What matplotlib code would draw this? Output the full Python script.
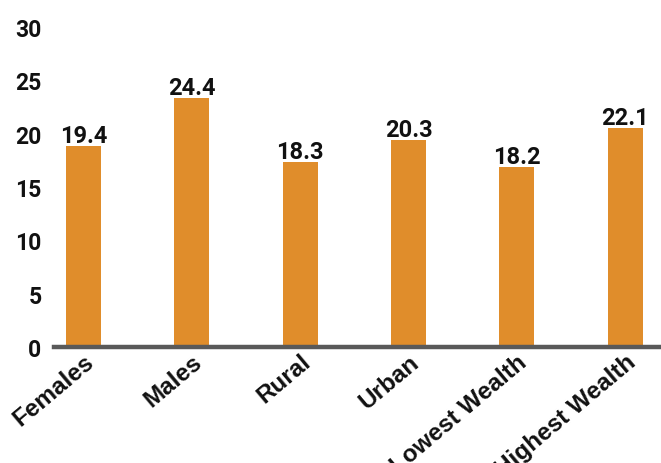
import matplotlib
matplotlib.use("Agg")
import matplotlib.pyplot as plt

categories = ["Females", "Males", "Rural", "Urban", "Lowest Wealth", "Highest Wealth"]
bar_heights = [18.8, 23.3, 17.3, 19.4, 16.9, 20.5]
value_labels = ["19.4", "24.4", "18.3", "20.3", "18.2", "22.1"]
y_ticks = [0, 5, 10, 15, 20, 25, 30]

BAR_COLOR = "#E08D2B"
AXIS_COLOR = "#595959"

fig = plt.figure(figsize=(6.61, 4.64), dpi=100)
ax = fig.add_axes([54 / 661, 1 - 348 / 464, 1 - 54 / 661, (348 - 28) / 464])

x = list(range(len(categories)))
ax.bar(x, bar_heights, width=0.325, color=BAR_COLOR, zorder=2)

for xi, h, lab in zip(x, bar_heights, value_labels):
    ax.annotate(lab, (xi, h), xytext=(0, 3), textcoords="offset points",
                ha="center", va="baseline", fontsize=17, fontweight="bold",
                family="Roboto", color="#111111", zorder=3)

ax.set_xlim(-0.272, 5.33)
ax.set_ylim(0, 30)
ax.set_yticks(y_ticks)
ax.set_yticklabels([str(t) for t in y_ticks], fontsize=16.5, fontweight="bold",
                   family="Roboto", color="#111111")
ax.tick_params(axis="y", length=0, pad=9)

ax.set_xticks(x)
ax.set_xticklabels(categories, rotation=40, ha="right", va="top",
                   rotation_mode="anchor", fontsize=17.5, fontweight="bold",
                   family="Liberation Sans", color="#111111")
ax.tick_params(axis="x", length=0, pad=2)

for s in ["top", "right", "left"]:
    ax.spines[s].set_visible(False)
ax.spines["bottom"].set_color(AXIS_COLOR)
ax.spines["bottom"].set_linewidth(3.2)
ax.spines["bottom"].set_zorder(4)

fig.savefig("out.png", dpi=100)
